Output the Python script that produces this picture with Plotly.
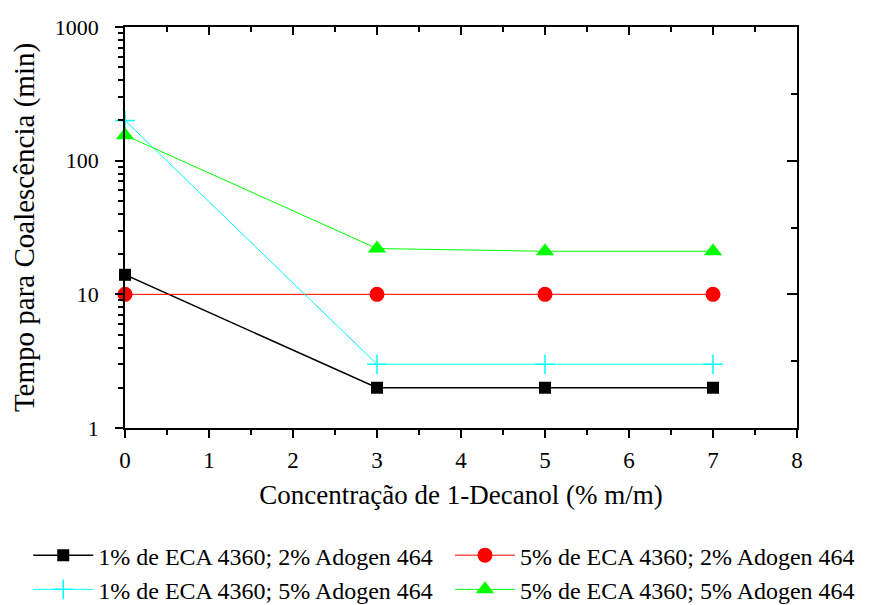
import plotly.graph_objects as go

x_vals = [0, 3, 5, 7]
eca1_adogen2 = [14, 2, 2, 2]
eca5_adogen2 = [10, 10, 10, 10]
eca1_adogen5 = [200, 3, 3, 3]
eca5_adogen5 = [155, 22, 21, 21]

names = ["1% de ECA 4360; 2% Adogen 464",
         "5% de ECA 4360; 2% Adogen 464",
         "1% de ECA 4360; 5% Adogen 464",
         "5% de ECA 4360; 5% Adogen 464"]

FONT = "Liberation Serif, Times New Roman, Times, serif"
fig = go.Figure()

fig.add_trace(go.Scatter(x=x_vals, y=eca1_adogen2, name=names[0], mode="lines+markers",
                         line=dict(color="black", width=1.5), legend="legend", legendgroup="a",
                         marker=dict(symbol="square", size=12, color="black"), cliponaxis=False))
fig.add_trace(go.Scatter(x=x_vals, y=eca5_adogen2, name=names[1], mode="lines+markers",
                         line=dict(color="#ff0000", width=1), legend="legend2", legendgroup="b",
                         marker=dict(symbol="circle", size=15, color="#ff0000"), cliponaxis=False))
fig.add_trace(go.Scatter(x=x_vals, y=eca1_adogen5, name=names[2], mode="lines+markers",
                         line=dict(color="#00ffff", width=1), legend="legend", legendgroup="c",
                         marker=dict(symbol="cross-thin", size=14, line=dict(color="#00ffff", width=1.5)),
                         cliponaxis=False))
fig.add_trace(go.Scatter(x=x_vals, y=eca5_adogen5, name=names[3], mode="lines+markers",
                         line=dict(color="#00ff00", width=1), legend="legend2", legendgroup="d",
                         marker=dict(symbol="triangle-up", size=16, color="#00ff00"), cliponaxis=False))

# invisible trace for mirror axes
fig.add_trace(go.Scatter(x=[0], y=[1], xaxis="x2", yaxis="y2", mode="markers",
                         marker=dict(opacity=0), showlegend=False, hoverinfo="skip"))

minor_log = [m * 10 ** d for d in range(0, 3) for m in range(2, 10)]
half_dec = [10 ** (d + 0.5) for d in range(0, 3)]

leg_common = dict(orientation="v", yanchor="top", y=-0.262, xanchor="left",
                  font=dict(size=24, family=FONT), itemwidth=60, tracegroupgap=0,
                  bgcolor="rgba(0,0,0,0)", borderwidth=0)

fig.update_layout(
    width=861, height=597,
    margin=dict(l=117, r=72, t=19, b=177, autoexpand=False),
    paper_bgcolor="white", plot_bgcolor="white",
    font=dict(family=FONT, size=22, color="black"),
    xaxis=dict(range=[0, 8], dtick=1, tick0=0, showgrid=False, zeroline=False,
               showline=True, linecolor="black", linewidth=1.5,
               ticks="outside", ticklen=8, tickwidth=1.5, tickcolor="black",
               minor=dict(dtick=0.5, ticks="outside", ticklen=5, tickwidth=1.5, tickcolor="black"),
               tickfont=dict(size=23, family=FONT), ticklabelstandoff=3,
               title=dict(text="Concentração de 1-Decanol (% m/m)", font=dict(size=27, family=FONT), standoff=13)),
    yaxis=dict(type="log", range=[0, 3], tickvals=[1, 10, 100, 1000], ticktext=["1", "10", "100", "1000"],
               showgrid=False, zeroline=False,
               showline=True, linecolor="black", linewidth=1.5,
               ticks="outside", ticklen=8, tickwidth=1.5, tickcolor="black",
               minor=dict(tickvals=minor_log, ticks="outside", ticklen=5, tickwidth=1.5, tickcolor="black"),
               tickfont=dict(size=22, family=FONT), ticklabelstandoff=12,
               title=dict(text="Tempo para Coalescência (min)", font=dict(size=29, family=FONT), standoff=14)),
    xaxis2=dict(overlaying="x", side="top", range=[0, 8], dtick=1, tick0=0, showgrid=False, zeroline=False,
                showline=True, linecolor="black", linewidth=1.5,
                ticks="inside", ticklen=8, tickwidth=1.5, tickcolor="black", showticklabels=False,
                minor=dict(dtick=0.5, ticks="inside", ticklen=5, tickwidth=1.5, tickcolor="black")),
    yaxis2=dict(overlaying="y", side="right", type="log", range=[0, 3], tickvals=[1, 10, 100, 1000],
                showgrid=False, zeroline=False,
                showline=True, linecolor="black", linewidth=1.5,
                ticks="inside", ticklen=10, tickwidth=1.5, tickcolor="black", showticklabels=False,
                minor=dict(tickvals=half_dec, ticks="inside", ticklen=6, tickwidth=1.5, tickcolor="black")),
    showlegend=True,
    legend=dict(x=-0.144, **leg_common),
    legend2=dict(x=0.4836, **leg_common),
)

fig.write_html("out.html")
